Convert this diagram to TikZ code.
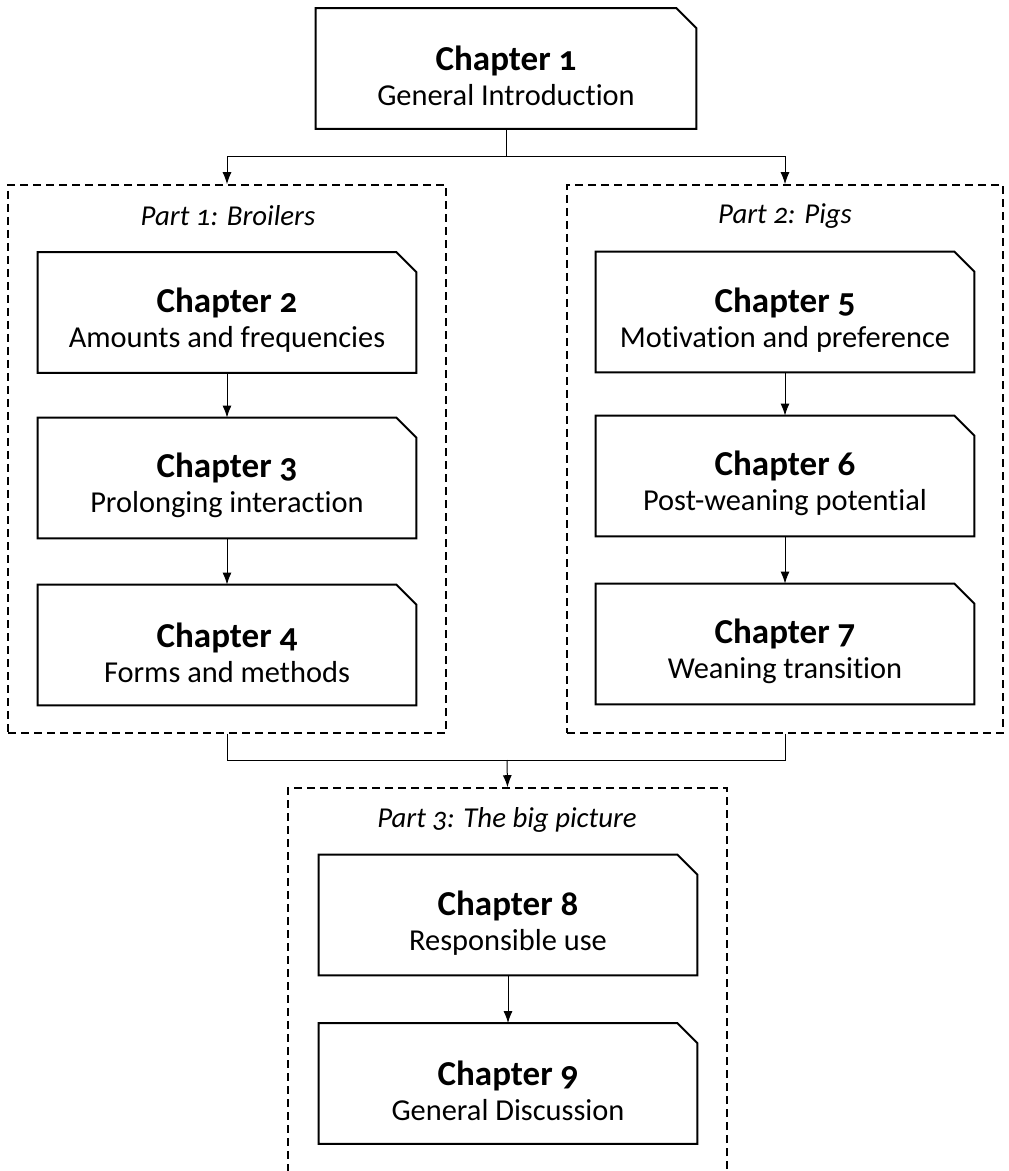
\documentclass[tikz,border=0pt]{standalone}
\usepackage{fontspec}
\setmainfont{Carlito}[Numbers=OldStyle,Ligatures=NoCommon]
\usetikzlibrary{arrows.meta}
\newcommand{\chtitle}[1]{\rule{0pt}{20pt}{\fontsize{17.5pt}{17.5pt}\selectfont\bfseries #1}}
\begin{document}
\begin{tikzpicture}[x=0.5pt,y=-0.5pt,
  chap/.style={minimum width=189pt,minimum height=60pt,inner sep=0pt,align=center,
    font=\fontsize{15.2pt}{17.5pt}\selectfont},
  chapline/.style={line width=1pt,line join=miter},
  partbox/.style={draw,dashed,dash pattern=on 4pt off 2.5pt,line width=0.8pt},
  partlabel/.style={font=\fontsize{14.4pt}{17.5pt}\selectfont\itshape},
  conn/.style={line width=0.5pt},
  arr/.style={line width=0.5pt,-{Latex[length=6pt,width=4.5pt]}}]
\useasboundingbox (0,0) rectangle (1008,1171);
\clip (0,0) rectangle (1008,1171);
% part boxes
\node[partbox,minimum width=219pt,minimum height=274pt] (p1) at (227,459) {};
\node[partbox,minimum width=218pt,minimum height=274pt] (p2) at (785,459) {};
\node[partbox,minimum width=219.5pt,minimum height=198.5pt] (p3) at (507.5,986.5) {};
\node[partlabel] (l1) at (228,216) {Part 1: Broilers};
\node[partlabel] (l2) at (785,216) {Part 2: Pigs};
\node[partlabel] (l3) at (507,820) {Part 3: The big picture};
% chapters
\node[chap,minimum width=190pt] (c1) at (506,68.5) {\chtitle{Chapter 1}\\General Introduction};
\node[chap] (c2) at (227,312.5) {\chtitle{Chapter 2}\\Amounts and frequencies};
\node[chap] (c3) at (227,478) {\chtitle{Chapter 3}\\Prolonging interaction};
\node[chap] (c4) at (227,645) {\chtitle{Chapter 4}\\Forms and methods};
\node[chap] (c5) at (785,312) {\chtitle{Chapter 5}\\Motivation and preference};
\node[chap] (c6) at (785,476) {\chtitle{Chapter 6}\\Post-weaning potential};
\node[chap] (c7) at (785,644) {\chtitle{Chapter 7}\\Weaning transition};
\node[chap] (c8) at (508,915) {\chtitle{Chapter 8}\\Responsible use};
\node[chap] (c9) at (508,1083.5) {\chtitle{Chapter 9}\\General Discussion};
\foreach \n in {c1,c2,c3,c4,c5,c6,c7,c8,c9}
  \draw[chapline] (\n.south west) -- (\n.north west) -- ([xshift=-10pt]\n.north east)
    -- ([yshift=-10pt]\n.north east) -- (\n.south east) -- cycle;
% connectors
\coordinate (j1) at (506,157);
\coordinate (j2) at (507,760);
\draw[conn] (c1.south) -- (j1);
\draw[arr] (j1) -| (p1.north);
\draw[arr] (j1) -| (p2.north);
\draw[conn] (p1.south) |- (j2);
\draw[conn] (p2.south) |- (j2);
\draw[arr] (j2) -- (p3.north);
\draw[arr] (c2) -- (c3);
\draw[arr] (c3) -- (c4);
\draw[arr] (c5) -- (c6);
\draw[arr] (c6) -- (c7);
\draw[arr] (c8) -- (c9);
\end{tikzpicture}
\end{document}
